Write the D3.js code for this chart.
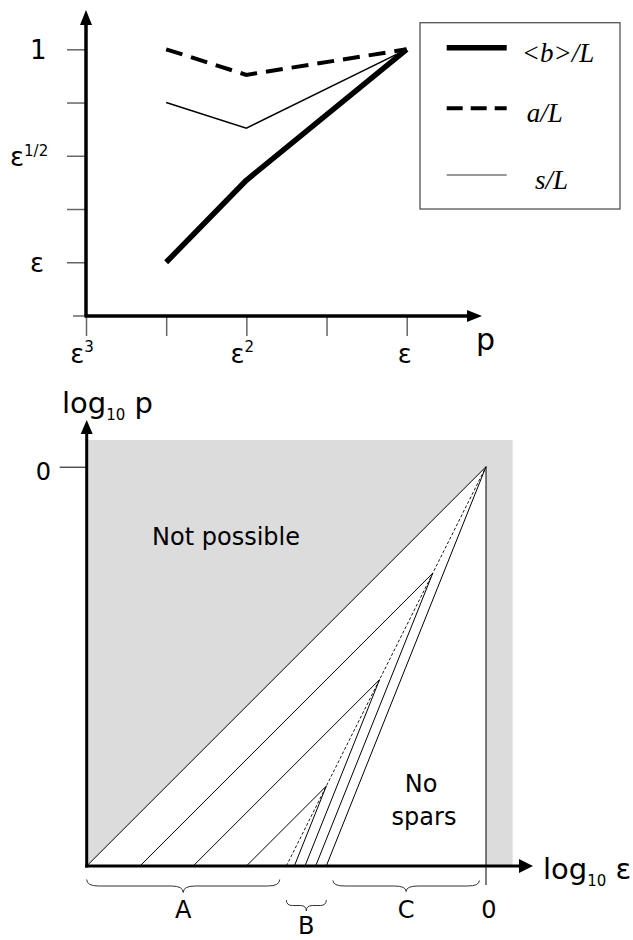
<!DOCTYPE html>
<html>
<head>
<meta charset="utf-8">
<script src="https://cdn.jsdelivr.net/npm/d3@7"></script>
<style>
  body { margin: 0; background: #fff; }
  text { font-family: "DejaVu Sans", Verdana, sans-serif; fill: #000; }
  .serif { font-family: "Liberation Serif", "Times New Roman", serif; font-style: italic; }
</style>
</head>
<body>
<div id="chart"></div>
<script>
// ---- top panel: p = eps^k on x, quantity = eps^j on y ----
var pExp = [2.5, 2, 1];
var bOverL = [1, 0.615, 0];
var aOverL = [0, 0.12, 0];
var sOverL = [0.25, 0.37, 0];

var pTicks = [3, 2.5, 2, 1.5, 1];
var pTickExp = [3, 2, 1];
var pTickSup = ["3", "2", ""];
var yTicks = [0, 0.25, 0.5, 0.75, 1, 1.25];
var yTickExp = [0, 0.5, 1];
var yTickBase = ["1", "ε", "ε"];
var yTickSup = ["", "1/2", ""];
var legendNames = ["<b>/L", "a/L", "s/L"];

// ---- bottom panel: log10 eps on x, log10 p on y ----
var apexEps = [0, -0.4, -0.8, -1.2];
var apexP = [0, -0.8, -1.6, -2.4];
var footA = [-3, -2.6, -2.2, -1.8];
var footSteep = [-1.2, -1.28, -1.36, -1.44];
var dashLine = [[-1.5, -3], [0, 0]];
var braceNames = ["A", "B", "C"];
var braceFrom = [-3, -1.5, -1.15];
var braceTo = [-1.55, -1.2, -0.05];

var svg = d3.select("#chart")
  .append("svg")
  .attr("width", 633)
  .attr("height", 940);

// ================= top panel =================
var x = d3.scaleLinear().domain([3, 1]).range([86, 406.7]);
var y = d3.scaleLinear().domain([0, 1.25]).range([49.3, 315.5]);

var topG = svg.append("g");

// tick marks
var xAx = topG.append("g")
  .attr("transform", "translate(0,316)")
  .call(d3.axisBottom(x).tickValues(pTicks).tickSize(20).tickFormat(""));
var yAx = topG.append("g")
  .attr("transform", "translate(86,0)")
  .call(d3.axisLeft(y).tickValues(yTicks).tickSize(19).tickFormat(""));
[xAx, yAx].forEach(function(g) {
  g.select(".domain").remove();
  g.selectAll(".tick line").attr("stroke", "#666").attr("stroke-width", 1.5);
});
yAx.selectAll(".tick line").filter(d => d === 1.25).attr("x2", -13);

// axis lines with arrows
topG.append("line").attr("x1", 86).attr("y1", 316).attr("x2", 86).attr("y2", 22)
  .attr("stroke", "#000").attr("stroke-width", 3.5);
topG.append("path").attr("d", "M86,10 L80,25 L92,25 Z").attr("fill", "#000");
topG.append("line").attr("x1", 84.5).attr("y1", 316).attr("x2", 470).attr("y2", 316)
  .attr("stroke", "#000").attr("stroke-width", 3.5);
topG.append("path").attr("d", "M482,316 L467,310 L467,322 Z").attr("fill", "#000");

// tick labels
var xl = topG.selectAll(".xlab").data(pTickExp).enter().append("text")
  .attr("x", (d, i) => x(d) - (pTickSup[i] ? 4 : 2))
  .attr("y", 363)
  .attr("text-anchor", "middle")
  .attr("font-size", "26px")
  .text("ε");
xl.append("tspan").attr("font-size", "15px").attr("dy", -11)
  .text((d, i) => pTickSup[i]);

var yl = topG.selectAll(".ylab").data(yTickExp).enter().append("text")
  .attr("x", (d, i) => i === 1 ? 10 : 30)
  .attr("y", d => y(d) + 10)
  .attr("font-size", "26px")
  .text((d, i) => yTickBase[i]);
yl.append("tspan").attr("font-size", "15px").attr("dy", -10)
  .text((d, i) => yTickSup[i]);

topG.append("text").attr("x", 476).attr("y", 350).attr("font-size", "30px").text("p");

// series
var line = d3.line().x(d => x(d[0])).y(d => y(d[1]));
topG.append("path").datum(d3.zip(pExp, sOverL)).attr("d", line)
  .attr("fill", "none").attr("stroke", "#000").attr("stroke-width", 1.5);
topG.append("path").datum(d3.zip(pExp, aOverL)).attr("d", line)
  .attr("fill", "none").attr("stroke", "#000").attr("stroke-width", 4)
  .attr("stroke-dasharray", "17,9");
topG.append("path").datum(d3.zip(pExp, bOverL)).attr("d", line)
  .attr("fill", "none").attr("stroke", "#000").attr("stroke-width", 5.5)
  .attr("stroke-linejoin", "round");

// legend
var lg = topG.append("g");
lg.append("rect").attr("x", 420).attr("y", 22.7).attr("width", 200).attr("height", 186.3)
  .attr("fill", "#fff").attr("stroke", "#555").attr("stroke-width", 1.3);
var rowY = [47.7, 108.3, 175];
var rowW = [5.5, 4, 1.2];
var rowDash = [null, "16,8", null];
var rowTx = [521.7, 526.7, 535];
legendNames.forEach(function(n, i) {
  lg.append("line").attr("x1", 446.7).attr("x2", 506.7).attr("y1", rowY[i]).attr("y2", rowY[i])
    .attr("stroke", i === 2 ? "#333" : "#000").attr("stroke-width", rowW[i])
    .attr("stroke-dasharray", rowDash[i]);
  lg.append("text").attr("class", "serif").attr("x", rowTx[i]).attr("y", rowY[i] + 14)
    .attr("font-size", "27px").text(n);
});

// ================= bottom panel =================
var bx = d3.scaleLinear().domain([-3, 0]).range([86.7, 486]);
var by = d3.scaleLinear().domain([-3, 0]).range([866, 466.7]);
var bot = svg.append("g");

bot.append("rect")
  .attr("x", bx(-3)).attr("y", by(0.2))
  .attr("width", bx(0.2) - bx(-3)).attr("height", by(-3) - by(0.2))
  .attr("fill", "#dcdcdc");
bot.append("path")
  .attr("d", "M" + bx(-3) + "," + by(-3) + "L" + bx(0) + "," + by(0) + "L" + bx(0) + "," + by(-3) + "Z")
  .attr("fill", "#fff");

// fan lines
apexEps.forEach(function(u, i) {
  bot.append("line").attr("x1", bx(footA[i])).attr("y1", by(-3)).attr("x2", bx(u)).attr("y2", by(apexP[i]))
    .attr("stroke", "#000").attr("stroke-width", 1);
  bot.append("line").attr("x1", bx(footSteep[i])).attr("y1", by(-3)).attr("x2", bx(u)).attr("y2", by(apexP[i]))
    .attr("stroke", "#000").attr("stroke-width", 1);
});
bot.append("line")
  .attr("x1", bx(dashLine[0][0])).attr("y1", by(dashLine[0][1]))
  .attr("x2", bx(dashLine[1][0])).attr("y2", by(dashLine[1][1]))
  .attr("stroke", "#000").attr("stroke-width", 0.9).attr("stroke-dasharray", "3,2");
bot.append("line").attr("x1", bx(0)).attr("x2", bx(0)).attr("y1", by(0)).attr("y2", by(-3) + 19)
  .attr("stroke", "#000").attr("stroke-width", 1);

// axes
var byAx = bot.append("g").attr("transform", "translate(" + bx(-3) + ",0)")
  .call(d3.axisLeft(by).tickValues([0]).tickSize(27).tickFormat(""));
byAx.select(".domain").remove();
byAx.selectAll(".tick line").attr("stroke", "#000").attr("stroke-width", 1);

bot.append("line").attr("x1", bx(-3)).attr("y1", by(-3) + 1.5).attr("x2", bx(-3)).attr("y2", 432)
  .attr("stroke", "#000").attr("stroke-width", 3);
bot.append("path").attr("d", "M" + bx(-3) + ",420 L" + (bx(-3) - 6) + ",434 L" + (bx(-3) + 6) + ",434 Z").attr("fill", "#000");
bot.append("line").attr("x1", bx(-3) - 1.5).attr("y1", by(-3)).attr("x2", 520).attr("y2", by(-3))
  .attr("stroke", "#000").attr("stroke-width", 3);
bot.append("path").attr("d", "M533," + by(-3) + " L519," + (by(-3) - 7) + " L519," + (by(-3) + 7) + " Z").attr("fill", "#000");

// axis labels
var lp = bot.append("text").attr("x", 62).attr("y", 413).attr("font-size", "29px").text("log");
lp.append("tspan").attr("font-size", "15px").attr("dy", 7).text("10");
lp.append("tspan").attr("dy", -7).text(" p");
var le = bot.append("text").attr("x", 543).attr("y", 879).attr("font-size", "29px").text("log");
le.append("tspan").attr("font-size", "15px").attr("dy", 7).text("10");
le.append("tspan").attr("dy", -7).text(" ε");

bot.append("text").attr("x", 43.5).attr("y", by(0) + 13).attr("text-anchor", "middle")
  .attr("font-size", "24px").text("0");
bot.append("text").attr("x", bx(0) + 3).attr("y", 918).attr("text-anchor", "middle")
  .attr("font-size", "24px").text("0");

// region labels
bot.append("text").attr("x", 226).attr("y", 545).attr("text-anchor", "middle")
  .attr("font-size", "24px").text("Not possible");
bot.append("text").attr("x", 421).attr("y", 792).attr("text-anchor", "middle")
  .attr("font-size", "24px").text("No");
bot.append("text").attr("x", 424).attr("y", 825).attr("text-anchor", "middle")
  .attr("font-size", "24px").text("spars");

// braces
var braceTop = [879.5, 900, 880.5];
var braceDepth = [6.5, 5.5, 5.5];
var braceR = [12, 6, 12];
braceNames.forEach(function(n, i) {
  var x1 = bx(braceFrom[i]), x2 = bx(braceTo[i]), m = (x1 + x2) / 2;
  var y0 = braceTop[i], y1 = y0 + braceDepth[i], y2 = y1 + braceDepth[i], r = braceR[i];
  var d = "M" + x1 + "," + y0 + " Q" + x1 + "," + y1 + " " + (x1 + r) + "," + y1 +
    " L" + (m - r) + "," + y1 + " Q" + m + "," + y1 + " " + m + "," + y2 +
    " Q" + m + "," + y1 + " " + (m + r) + "," + y1 +
    " L" + (x2 - r) + "," + y1 + " Q" + x2 + "," + y1 + " " + x2 + "," + y0;
  bot.append("path").attr("d", d).attr("fill", "none").attr("stroke", "#333").attr("stroke-width", 1);
  bot.append("text").attr("x", m).attr("y", i === 1 ? 934 : 918).attr("text-anchor", "middle")
    .attr("font-size", "24px").text(n);
});
</script>
</body>
</html>
